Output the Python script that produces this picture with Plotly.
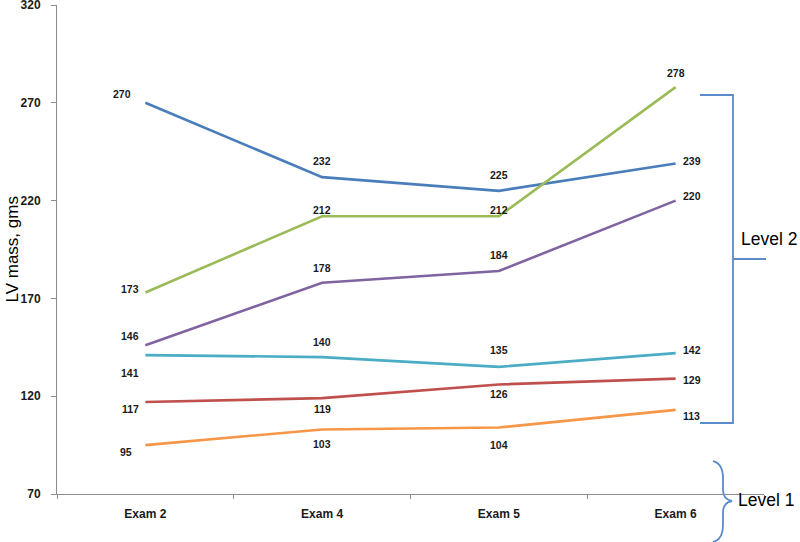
import plotly.graph_objects as go

# ---------------- data ----------------
exams = ["Exam 2", "Exam 4", "Exam 5", "Exam 6"]
blue_vals = [270, 232, 225, 239]
green_vals = [173, 212, 212, 278]
purple_vals = [146, 178, 184, 220]
cyan_vals = [141, 140, 135, 142]
red_vals = [117, 119, 126, 129]
orange_vals = [95, 103, 104, 113]
y_ticks = [70, 120, 170, 220, 270, 320]
level_labels = ["Level 2", "Level 1"]

# ---------------- style ----------------
series = [
    (blue_vals, "#4A7EBB", [(-23, -9), (0, -16), (0, -16), (16, -2)]),
    (green_vals, "#9BBB59", [(-15, -4), (0, -6), (0, -6), (0, -14)]),
    (purple_vals, "#8064A2", [(-15, -9), (0, -15), (0, -16), (16, -5)]),
    (cyan_vals, "#4BACC6", [(-15, 18), (0, -15), (0, -17), (16, -3)]),
    (red_vals, "#C0504D", [(-15, 7), (0, 11), (0, 10), (16, 1)]),
    (orange_vals, "#F79646", [(-19, 7), (0, 15), (0, 17), (16, 6)]),
]

W, H = 800, 542
L, R, T, B = 57, 36, 5, 48
pw, ph = W - L - R, H - T - B
FONT = "Liberation Sans, Arial, sans-serif"


def px(x):
    return (x - L) / pw


def py(y):
    return (H - B - y) / ph


def P(a, b):
    return f"{px(a):.5f},{py(b):.5f}"


fig = go.Figure()
annotations = []
for i, (vals, color, offs) in enumerate(series):
    fig.add_trace(go.Scatter(
        x=exams, y=vals, mode="lines", name=f"Series {i + 1}",
        line=dict(color=color, width=2.6), hoverinfo="x+y",
    ))
    for xc, v, (dx, dy) in zip(exams, vals, offs):
        annotations.append(dict(
            x=xc, y=v, xref="x", yref="y", text=str(v), showarrow=False,
            xshift=dx, yshift=-dy,
            font=dict(family=FONT, size=10.5, color="#1a1a1a", weight="bold"),
        ))

# y-axis title
annotations.append(dict(
    x=px(12), y=0.5, xref="paper", yref="paper", text="LV mass, gms",
    textangle=-90, showarrow=False, xanchor="center", yanchor="middle",
    font=dict(family=FONT, size=17, color="#000000"),
))
# level labels
annotations.append(dict(
    x=px(769), y=py(239), xref="paper", yref="paper", text=level_labels[0],
    showarrow=False, xanchor="center", yanchor="middle",
    font=dict(family=FONT, size=17.5, color="#000000"),
))
annotations.append(dict(
    x=px(766), y=py(500), xref="paper", yref="paper", text=level_labels[1],
    showarrow=False, xanchor="center", yanchor="middle",
    font=dict(family=FONT, size=17.5, color="#000000"),
))

bcol = "#5B8BCB"
shapes = []
# Level 2 square bracket
bracket_pts = [(700, 95), (733, 95), (733, 423), (700, 423)]
path = "M " + " L ".join(P(a, b) for a, b in bracket_pts)
shapes.append(dict(type="path", path=path, xref="paper", yref="paper",
                   line=dict(color=bcol, width=1.8)))
shapes.append(dict(type="line", xref="paper", yref="paper",
                   x0=px(733), y0=py(259), x1=px(766), y1=py(259),
                   line=dict(color=bcol, width=1.8)))

# Level 1 curly brace
brace = (
    f"M {P(713, 461)} "
    f"C {P(721, 463)} {P(723, 470)} {P(723, 478)} "
    f"L {P(723, 490)} "
    f"C {P(723, 497)} {P(727, 500)} {P(732, 501)} "
    f"C {P(727, 502)} {P(723, 505)} {P(723, 512)} "
    f"L {P(723, 525)} "
    f"C {P(723, 533)} {P(721, 540)} {P(713, 542)}"
)
shapes.append(dict(type="path", path=brace, xref="paper", yref="paper",
                   line=dict(color=bcol, width=1.8)))

axis_font = dict(family=FONT, size=12, color="#1a1a1a", weight="bold")

fig.update_layout(
    width=W, height=H,
    margin=dict(l=L, r=R, t=T, b=B, pad=0, autoexpand=False),
    paper_bgcolor="white", plot_bgcolor="white",
    showlegend=False,
    annotations=annotations,
    shapes=shapes,
    xaxis=dict(
        type="category", categoryorder="array", categoryarray=exams,
        range=[-0.5, 3.5], showgrid=False, zeroline=False, automargin=False,
        showline=True, linecolor="#8c8c8c", linewidth=1,
        ticks="outside", tickson="boundaries", ticklen=4, tickcolor="#8c8c8c",
        tickfont=axis_font, ticklabelstandoff=9, ticklabeloverflow="allow",
    ),
    yaxis=dict(
        range=[70, 320], tickvals=y_ticks, showgrid=False, zeroline=False,
        automargin=False,
        showline=True, linecolor="#8c8c8c", linewidth=1,
        ticks="outside", ticklen=5, tickcolor="#8c8c8c",
        tickfont=axis_font, ticklabelstandoff=8, ticklabeloverflow="allow",
    ),
)

fig.write_html(
    "out.html",
    config={"displayModeBar": False},
    post_script="document.body.style.margin='0';document.body.style.overflow='hidden';",
)
